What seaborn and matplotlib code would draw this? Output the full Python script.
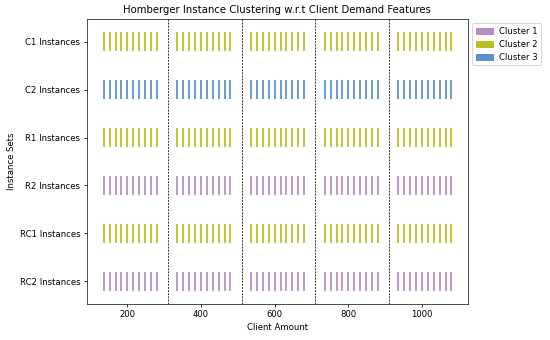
import matplotlib
matplotlib.use("Agg")
import matplotlib.pyplot as plt
from matplotlib.patches import Patch
import pandas as pd
import seaborn as sns

# instance sets, top to bottom
instance_sets = ['C1 Instances', 'C2 Instances', 'R1 Instances',
                 'R2 Instances', 'RC1 Instances', 'RC2 Instances']
# cluster assigned to each set
set_cluster = ['Cluster 2', 'Cluster 3', 'Cluster 2',
               'Cluster 1', 'Cluster 2', 'Cluster 1']
# client amount position of the 50 instances in every set
client_x = [136, 152, 168, 184, 200, 216, 232, 248, 264, 280,
            336, 352, 368, 384, 400, 416, 432, 448, 464, 480,
            536, 552, 568, 584, 600, 616, 632, 648, 664, 680,
            736, 752, 768, 784, 800, 816, 832, 848, 864, 880,
            936, 952, 968, 984, 1000, 1016, 1032, 1048, 1064, 1080]
# dashed separators between size groups
dividers = [310, 510, 710, 910]

clusters = ['Cluster 1', 'Cluster 2', 'Cluster 3']
palette = {'Cluster 1': '#b68cc9', 'Cluster 2': '#bcbd22', 'Cluster 3': '#5a8fd0'}

plt.rcParams['font.size'] = 8.7
plt.rcParams['xtick.major.size'] = 3
plt.rcParams['ytick.major.size'] = 3
plt.rcParams['axes.linewidth'] = 0.7

rows = []
for i, (name, cl) in enumerate(zip(instance_sets, set_cluster)):
    ypos = len(instance_sets) - 1 - i
    for x in client_x:
        rows.append({'client': x, 'set': ypos, 'cluster': cl})
df = pd.DataFrame(rows)

fig = plt.figure(figsize=(550 / 70, 340 / 70), dpi=70)
ax = fig.add_axes([86.5 / 550, 1 - 304 / 340, (468 - 86.5) / 550, (304 - 19) / 340])

sns.scatterplot(data=df, x='client', y='set', hue='cluster', palette=palette,
                marker='|', s=385, linewidth=1.8, legend=False, ax=ax)

for d in dividers:
    ax.axvline(d, color='black', linestyle=(0, (2.5, 1.5)), linewidth=0.8)

ax.set_xlim(89, 1125)
ax.set_ylim(-0.47, 5.47)
ax.set_yticks(range(len(instance_sets)))
ax.set_yticklabels(instance_sets[::-1])
ax.set_xticks([200, 400, 600, 800, 1000])
ax.set_xlabel('Client Amount')
ax.set_ylabel('Instance Sets')
ax.set_title('Homberger Instance Clustering w.r.t Client Demand Features', fontsize=10.4)

handles = [Patch(color=palette[c], label=c) for c in clusters]
ax.legend(handles=handles, loc='upper left', bbox_to_anchor=(1, 1))

fig.savefig('out.png', dpi=70)
